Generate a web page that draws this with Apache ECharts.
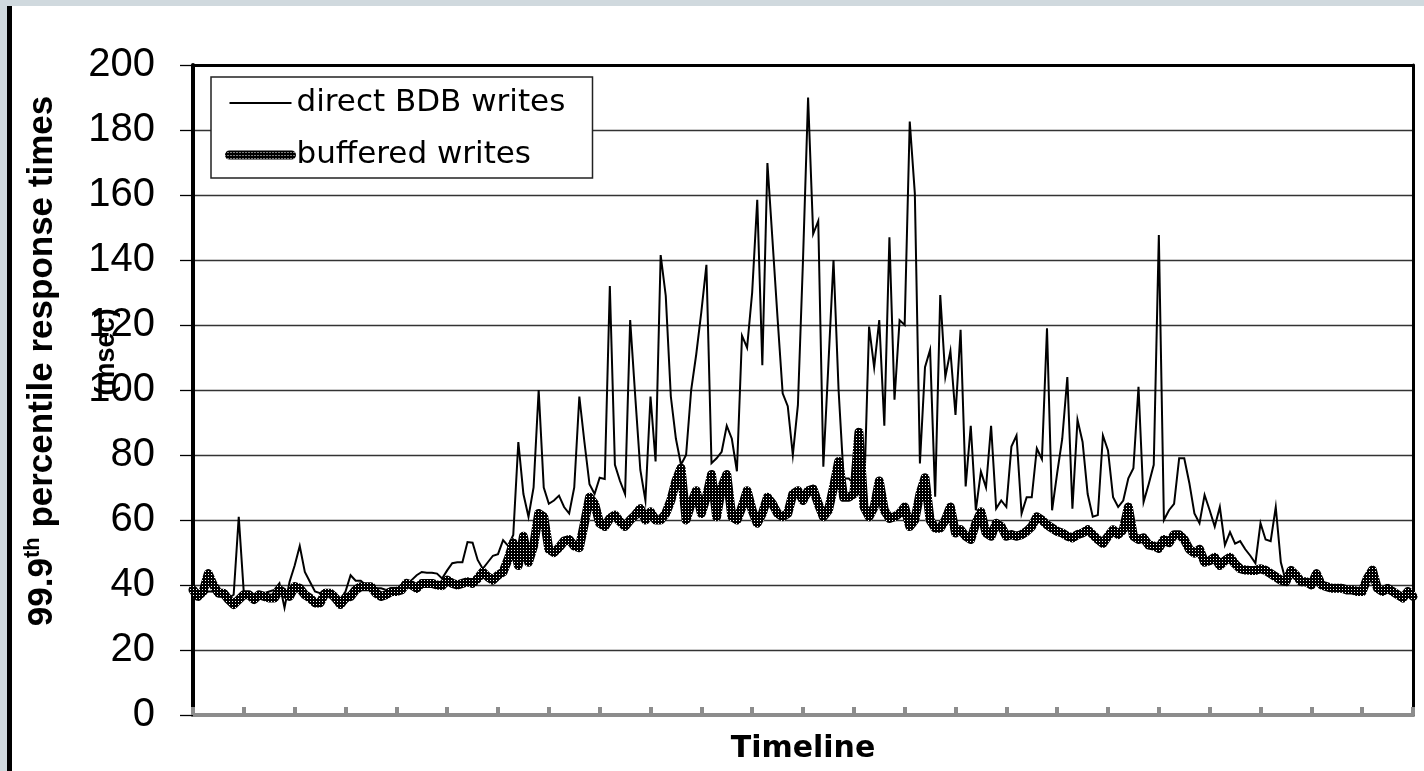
<!DOCTYPE html>
<html>
<head>
<meta charset="utf-8">
<script src="https://cdn.jsdelivr.net/npm/echarts/dist/echarts.min.js"></script>
<style>
html,body{margin:0;padding:0;background:#fff;overflow:hidden;}
#chart{width:1424px;height:771px;}
</style>
</head>
<body>
<div id="chart"></div>
<script>
// ---- data ----
const seriesNames = ['direct BDB writes', 'buffered writes'];
const yTickValues = [0, 20, 40, 60, 80, 100, 120, 140, 160, 180, 200];
const axisTitleY = ['99.9', 'th', ' percentile response times', '(msec)'];
const axisTitleX = 'Timeline';

const direct = [
  39, 36, 37, 38, 38, 37, 37, 36, 37, 61,
  37.5, 37.5, 37, 37.5, 37.5, 38, 38.5, 40.5, 33, 41,
  46, 52, 44, 41, 38, 37.5, 38.5, 38, 37.5, 35.5,
  38, 43, 41.3, 41.3, 40, 39, 39, 39, 38.5, 39,
  39, 39, 40, 41.5, 43, 44, 43.8, 43.8, 43.5, 42,
  44.5, 46.7, 47, 47, 53.2, 53, 47.7, 45, 47, 49,
  49.5, 53.8, 52, 55.4, 84, 68, 61, 70, 100, 70,
  65, 66, 67.5, 64, 62, 70, 98, 84, 71, 68,
  73, 72.6, 132, 77, 72, 68, 121.5, 98, 75.4, 66,
  98, 78, 141.5, 129, 98, 85, 77, 80, 100, 111,
  124, 138.5, 77.5, 79, 81, 89, 85, 75, 116.7, 113,
  130, 158.5, 107.6, 169.8, 146, 122, 99, 95, 80, 95.4,
  140, 190, 148, 152, 76.4, 108, 140, 100, 72.8, 72.8,
  71, 68, 66.5, 119.5, 107, 121.5, 89, 147, 97, 121.5,
  120, 182.6, 160.5, 77.4, 107, 112.3, 67.2, 129.2, 104, 112,
  92.3, 118.5, 70.3, 89, 63, 74.9, 70, 89, 63.5, 66,
  64, 82.6, 86, 62, 67, 67, 82, 78.7, 119, 63,
  74.4, 85, 104, 63.5, 90.8, 84, 68, 61, 61.5, 86,
  81.4, 67, 64, 66, 72.8, 75.9, 101, 65.5, 71, 77,
  147.7, 60, 63, 65, 79, 79, 71.4, 62, 59, 67.7,
  63, 58, 64, 52.3, 56.3, 52.7, 53.5, 51, 49, 46.7,
  59, 54, 53.5, 64, 47, 41, 44, 42.5, 41, 40.5,
  40, 43, 40, 39.5, 39, 39, 39, 38.5, 38.5, 38,
  38, 41.5, 44, 39, 38, 38.5, 38, 37, 36, 37.5,
  36.5
];

const buffered = [
  38.5, 36.5, 38, 43.5, 40, 37.5, 37.5, 35.5, 34, 35.5,
  37, 37, 35.5, 37, 36.5, 36, 36, 38.5, 37.5, 36.5,
  39.5, 39, 37, 36, 34.5, 34.5, 37.5, 37.5, 36, 34,
  36, 36.5, 38.5, 39.5, 39.5, 39.5, 37.5, 36.5, 37, 38,
  38, 38.5, 40.5, 40, 39, 40.5, 40.5, 40.5, 40, 39.8,
  41.5, 40.5, 40, 40.5, 41, 40.5, 42, 44, 42.5, 41.5,
  43, 44, 48, 53, 46, 55, 47, 52, 62, 61,
  51, 50, 51.5, 53.5, 54, 52, 51.5, 59, 67, 65,
  59, 58, 60.5, 61.5, 59.5, 58, 60, 61.5, 63.5, 60,
  62.5, 60, 60, 62, 66, 72, 76, 60, 65, 69,
  62, 67, 74, 61, 70, 74, 61, 60, 64, 69,
  63, 59, 62, 67, 65, 62, 61, 62, 68, 69,
  66, 69, 69.5, 65, 61, 63, 70, 78, 67, 67,
  68, 87, 64, 61, 64, 72, 63, 60.5, 61, 62,
  64, 58, 60, 68, 73, 60, 57.5, 57.5, 60, 64,
  56, 57, 55, 54, 59, 62.5, 56, 55, 59, 58,
  55, 55.5, 55, 55.5, 56.5, 58, 61, 60, 58.5, 57.5,
  56.5, 56, 55, 54.5, 55.5, 56, 57, 55.5, 54, 52.8,
  55, 57, 55.5, 57, 64, 55, 54, 54.5, 52.3, 52,
  51.3, 54, 53, 55.5, 55.5, 54, 51, 49.8, 51, 47,
  47.5, 48.5, 46, 47.5, 48.5, 46.5, 45, 44.6, 44.5, 44.5,
  45, 44.5, 43.5, 42.5, 41.5, 41, 44.5, 43, 41, 41,
  40, 43.5, 40, 39.5, 39, 39, 39, 38.5, 38.5, 38,
  38, 42, 44.6, 39, 38, 39, 38, 37, 36, 38,
  36.5
];

// sample positions along the timeline (unlabelled)
const timeline = direct.map((_, i) => String(i));

// ---- dotted texture for the buffered line ----
const tile = document.createElement('canvas');
tile.width = 3; tile.height = 3;
const tc = tile.getContext('2d');
tc.fillStyle = '#000'; tc.fillRect(0, 0, 3, 3);
tc.fillStyle = '#fff'; tc.fillRect(1, 1, 1, 1);
const dottedFill = { image: tile, repeat: 'repeat' };

const chart = echarts.init(document.getElementById('chart'), null, { renderer: 'canvas' });

const option = {
  animation: false,
  backgroundColor: '#ffffff',
  grid: { left: 193, right: 11, top: 65, bottom: 56, containLabel: false, outerBoundsMode: 'none' },
  legend: {
    orient: 'vertical',
    left: 211, top: 77,
    padding: [8, 14, 5, 14],
    itemGap: 16,
    itemWidth: 62, itemHeight: 14,
    backgroundColor: '#fff',
    borderColor: '#222', borderWidth: 1.5, borderRadius: 0,
    itemStyle: { opacity: 0 },
    lineStyle: { width: 'inherit' },
    textStyle: { fontFamily: 'DejaVu Sans', fontSize: 31, color: '#000', width: 282, lineHeight: 36 },
    data: [
      { name: seriesNames[0] },
      { name: seriesNames[1], lineStyle: { cap: 'round' } }
    ]
  },
  xAxis: [{
    type: 'category',
    data: timeline,
    boundaryGap: false,
    name: axisTitleX,
    nameLocation: 'middle',
    nameGap: 19,
    nameTextStyle: { fontFamily: 'DejaVu Sans', fontWeight: 'bold', fontSize: 30, color: '#000' },
    axisLine: { show: true, lineStyle: { color: '#8c8c8c', width: 4 } },
    axisTick: { show: true, inside: true, length: 8, interval: 9, lineStyle: { color: '#8c8c8c', width: 4 } },
    axisLabel: { show: false },
    splitLine: { show: false }
  }, {
    type: 'value', position: 'top', min: 0, max: 1,
    axisLine: { show: true, onZero: false, lineStyle: { color: '#000', width: 3 } },
    axisTick: { show: false }, axisLabel: { show: false }, splitLine: { show: false }
  }],
  yAxis: [{
    type: 'value',
    min: yTickValues[0], max: yTickValues[yTickValues.length - 1], interval: 20,
    axisLine: { show: true, lineStyle: { color: '#000', width: 4 } },
    axisTick: { show: true, length: 13, lineStyle: { color: '#000', width: 1.3 } },
    axisLabel: { margin: 38, fontFamily: 'Liberation Sans', fontSize: 40, color: '#000' },
    splitLine: { show: true, lineStyle: { color: '#333', width: 1.3 } }
  }, {
    type: 'value', position: 'right', min: 0, max: 1,
    axisLine: { show: true, onZero: false, lineStyle: { color: '#000', width: 3 } },
    axisTick: { show: false }, axisLabel: { show: false }, splitLine: { show: false }
  }],
  graphic: [
    { type: 'rect', z: -10, shape: { x: 0, y: 0, width: 1424, height: 6 }, style: { fill: '#d0d9de' } },
    { type: 'rect', z: -10, shape: { x: 0, y: 0, width: 7, height: 771 }, style: { fill: '#d0d9de' } },
    { type: 'rect', z: -10, shape: { x: 7, y: 6, width: 5, height: 765 }, style: { fill: '#000' } },
    {
      type: 'text', x: 42, y: 361, rotation: Math.PI / 2, z: 10,
      style: {
        text: '{n|' + axisTitleY[0] + '}{s|' + axisTitleY[1] + '}{n|' + axisTitleY[2] + '}',
        align: 'center', verticalAlign: 'middle',
        rich: {
          n: { fontFamily: 'Liberation Sans', fontWeight: 'bold', fontSize: 35, lineHeight: 40, fill: '#000' },
          s: { fontFamily: 'Liberation Sans', fontWeight: 'bold', fontSize: 22, lineHeight: 40, verticalAlign: 'top', padding: [0, 0, 14, 0], fill: '#000' }
        }
      }
    },
    {
      type: 'text', x: 107, y: 352, rotation: Math.PI / 2, z: 10,
      style: {
        text: axisTitleY[3], align: 'center', verticalAlign: 'middle',
        font: 'bold 27px "Liberation Sans"', fill: '#000'
      }
    }
  ],
  series: [{
    name: seriesNames[0],
    type: 'line',
    data: direct,
    symbol: 'none',
    z: 3,
    itemStyle: { color: '#000' },
    lineStyle: { color: '#000', width: 2, join: 'miter' }
  }, {
    name: seriesNames[1],
    type: 'line',
    data: buffered,
    symbol: 'none',
    z: 4,
    itemStyle: { color: '#000' },
    lineStyle: { color: dottedFill, width: 9, cap: 'round', join: 'round' }
  }]
};
chart.setOption(option);
</script>
</body>
</html>
